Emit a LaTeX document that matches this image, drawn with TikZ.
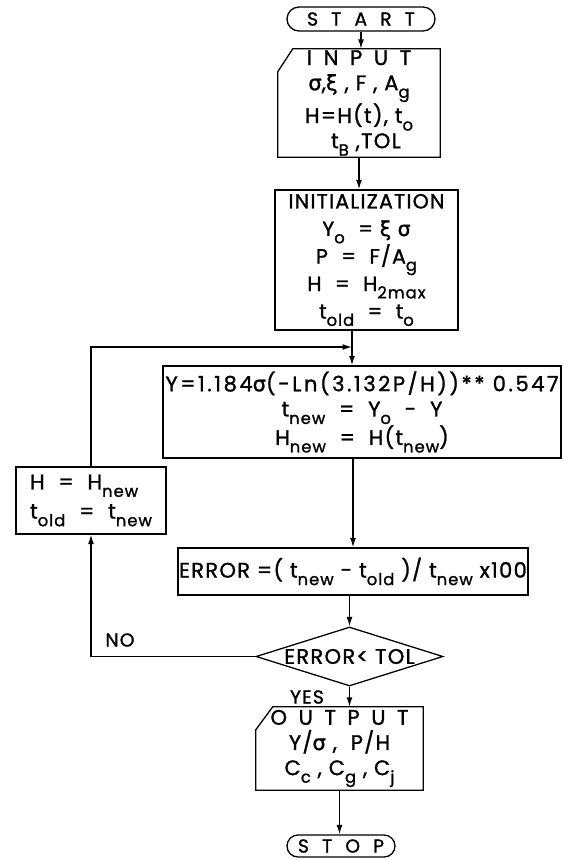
\documentclass[tikz,border=0pt]{standalone}
\usepackage{fontspec}
\setmainfont{Poppins}[FakeBold=1.2, LetterSpace=6]
\newfontfamily\gk{DejaVu Sans}[FakeBold=1.2]
\usetikzlibrary{shapes.geometric,shapes.misc,arrows.meta}
\newcommand\sbs[1]{\raisebox{-0.65ex}{\fontsize{14}{14}\selectfont #1}}
\newcommand\spaced[2]{{\addfontfeature{LetterSpace=#1}#2}}
\begin{document}
\begin{tikzpicture}[x=0.03cm,y=-0.03cm,
  every node/.style={font=\fontsize{18}{21.5}\selectfont, inner sep=1pt},
  ln/.style={line width=1.1pt},
  arr/.style={ln, -{Latex[length=8pt,width=5pt]}},
  box/.style={draw, ln, rectangle, align=center},
  term/.style={draw, ln, rounded rectangle, inner sep=0pt, font=\fontsize{16}{18}\selectfont},
  iobox/.style={rectangle, align=center},
  dec/.style={draw, ln, diamond, aspect=3.2, inner sep=0pt},
  lbl/.style={font=\fontsize{16}{18}\selectfont}]
\useasboundingbox (0,0) rectangle (563,860);
% nodes
\node[term, minimum width=4.44cm, minimum height=0.72cm] (start) at (361,19) {\spaced{70}{START}};
\node[iobox, minimum width=4.86cm, minimum height=3.24cm] (input) at (359,103)
  {\spaced{55}{INPUT}\\ {\gk σ},{\gk ξ} , F , A\sbs{g}\\ H=H(t), t\sbs{o}\\ \ \ t\sbs{B} ,TOL};
\draw[ln] ([xshift=0.45cm]input.north west) -- (input.north east) -- (input.south east)
  -- (input.south west) -- ([yshift=-0.69cm]input.north west) -- cycle;
\node[box, minimum width=5.49cm, minimum height=4.2cm, font=\fontsize{17.5}{23.5}\selectfont] (init) at (366.5,260)
  {INITIALIZATION\\ Y\sbs{o} \ = {\gk ξ σ}\\ P \ = \ F/A\sbs{g}\\ H \ = \ H\sbs{2max}\\ t\sbs{old} \ = \ t\sbs{o}};
\node[box, minimum width=11.94cm, minimum height=2.76cm] (ybox) at (362,412)
  {\spaced{12}{Y=1.184{\gk σ}(-Ln(3.132P/H))** 0.547}\\ t\sbs{new} \ = \ Y\sbs{o} \ - \ Y\\ H\sbs{new} \ = \ H(t\sbs{new})};
\node[box, align=left, minimum width=4.5cm, minimum height=2.01cm, font=\fontsize{18}{25}\selectfont] (hbox) at (91,500.5)
  {H \ = \ H\sbs{new}\\ t\sbs{old} \ = \ t\sbs{new}};
\node[box, minimum width=10.32cm, minimum height=1.41cm] (err) at (353,571.5)
  {ERROR =( t\sbs{new} - t\sbs{old} )/ t\sbs{new} x100};
\node[dec, minimum width=5.61cm, minimum height=1.77cm] (dia) at (349.5,656.5) {ERROR< TOL};
\node[iobox, minimum width=5.01cm, minimum height=2.49cm] (output) at (339.5,748.5)
  {\spaced{55}{OUTPUT}\\ Y/{\gk σ} , \ P/H\\ C\sbs{c} , C\sbs{g} , C\sbs{j}};
\draw[ln] ([xshift=0.51cm]output.north west) -- (output.north east) -- (output.south east)
  -- (output.south west) -- ([yshift=-0.69cm]output.north west) -- cycle;
\node[term, minimum width=3.24cm, minimum height=0.66cm] (stop) at (341,846) {\spaced{70}{STOP}};
\node[lbl] (no) at (120,640) {NO};
\node[lbl] (yes) at (307,697) {YES};
\coordinate (j) at (352,347);
% connectors
\draw[arr] (start.south) -- (start.south |- input.north);
\draw[arr] (input.south) -- (input.south |- init.north);
\draw[arr] (j |- init.south) -- (j |- ybox.north);
\draw[arr] (hbox.north) |- (j);
\draw[arr] (err.north |- ybox.south) -- (err.north);
\draw[arr] (dia.north |- err.south) -- (dia.north);
\draw[arr] (dia.south) -- (dia.south |- output.north);
\draw[arr] (output.south) -- (output.south |- stop.north);
\draw[arr] (dia.west) -| (hbox.south);
\end{tikzpicture}
\end{document}
